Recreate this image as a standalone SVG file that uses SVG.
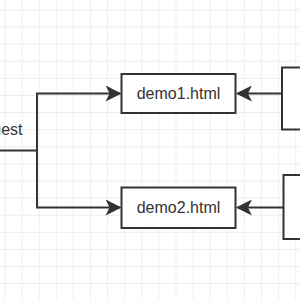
<svg xmlns="http://www.w3.org/2000/svg" width="300" height="300" viewBox="0 0 300 300">
  <style>
    .box { fill: #ffffff; stroke: #333333; stroke-width: 2; }
    .lbl { font-family: "Liberation Sans", Arial, sans-serif; font-size: 16px; fill: #333333; }
    .edge { fill: none; stroke: #333333; stroke-width: 2; }
  </style>
  <defs>
    <pattern id="grid" x="4.5" y="9.5" width="17.1" height="17.1" patternUnits="userSpaceOnUse">
      <path d="M 0 0 L 17.1 0 M 0 0 L 0 17.1" fill="none" stroke="#e6e6e6" stroke-width="1.2"/>
    </pattern>
    <marker id="arrow" viewBox="0 0 10 10" refX="9" refY="5" markerWidth="9" markerHeight="9" markerUnits="userSpaceOnUse" orient="auto">
      <path d="M 0 0 L 10 5 L 0 10 L 2.5 5 Z" fill="#333333"/>
    </marker>
    <marker id="arrowL" viewBox="0 0 10 10" refX="9" refY="5" markerWidth="18" markerHeight="16" markerUnits="userSpaceOnUse" orient="auto">
      <path d="M 0 0 L 10 5 L 0 10 L 2.5 5 Z" fill="#333333"/>
    </marker>
  </defs>
  <rect width="300" height="300" fill="#ffffff"/>
  <rect width="300" height="300" fill="url(#grid)"/>

  <g id="connectors">
    <path class="edge" d="M 0 150.5 L 37 150.5 L 37 93.5 L 120 93.5" marker-end="url(#arrowL)"/>
    <path class="edge" d="M 37 150.5 L 37 207.5 L 120 207.5" marker-end="url(#arrowL)"/>
    <path class="edge" d="M 282 93.5 L 237.5 93.5" marker-end="url(#arrowL)"/>
    <path class="edge" d="M 283 207.5 L 237.5 207.5" marker-end="url(#arrowL)"/>
  </g>

  <g id="request">
    <text class="lbl" x="22.5" y="135" text-anchor="end">request</text>
  </g>

  <g id="demo1">
    <rect class="box" x="121.5" y="74" width="114" height="39"/>
    <text class="lbl" x="178.5" y="99" text-anchor="middle">demo1.html</text>
  </g>

  <g id="demo2">
    <rect class="box" x="121.5" y="187.5" width="114" height="40.5"/>
    <text class="lbl" x="178.5" y="213" text-anchor="middle">demo2.html</text>
  </g>

  <g id="source1">
    <rect class="box" x="282" y="67.5" width="40" height="62"/>
  </g>

  <g id="source2">
    <rect class="box" x="283.5" y="175" width="40" height="64"/>
  </g>
</svg>
